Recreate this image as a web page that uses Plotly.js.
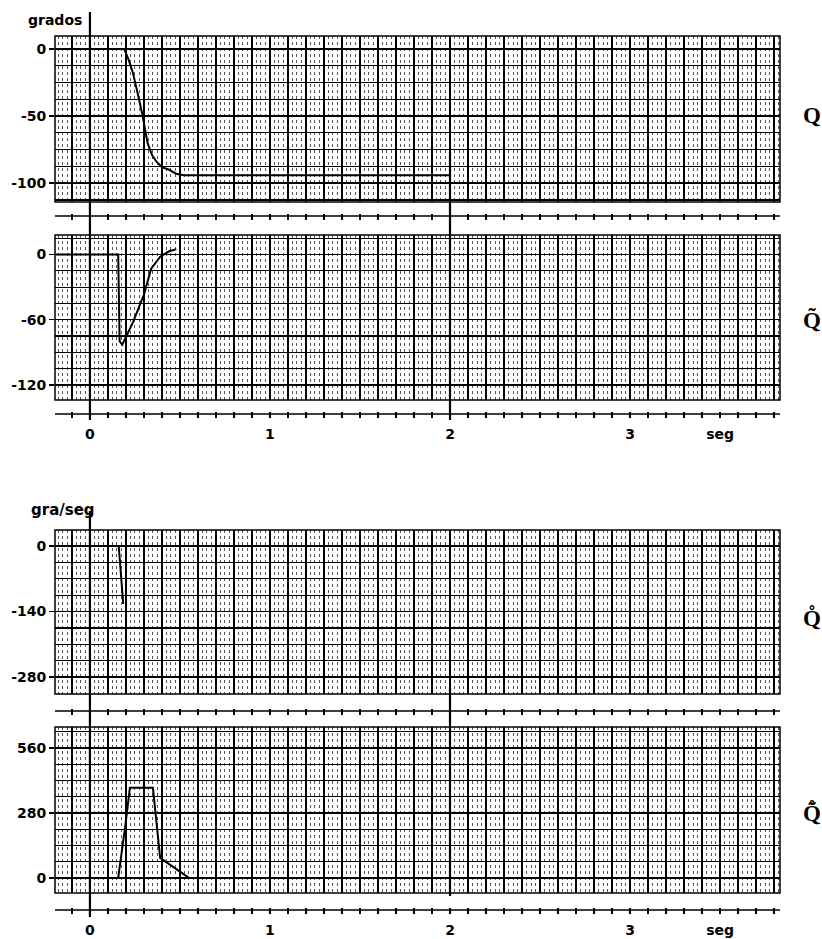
<!DOCTYPE html>
<html><head><meta charset="utf-8">
<script src="https://cdn.plot.ly/plotly-3.0.1.min.js"></script>
<style>html,body{margin:0;padding:0;background:#fff}</style>
</head><body><div id="chart" style="width:822px;height:939px"></div>
<script>
// ---- data ----
// panel 1: q (grados)
const tQ = [-0.19, 0.19, 0.215, 0.24, 0.265, 0.29, 0.32, 0.345, 0.37, 0.40, 0.44, 0.48, 0.52, 2.0];
const vQ = [0, 0, -8, -18.5, -33, -48, -70, -79, -84, -88, -90, -93, -94, -94];
// panel 2: q tilde (grados)
const tQt = [-0.19, 0.157, 0.165, 0.18, 0.24, 0.30, 0.34, 0.39, 0.44, 0.48];
const vQt = [0, 0, -80, -83, -62, -37, -13, -2, 3, 5];
// panel 3: q dot (gra/seg)
const tQd = [-0.19, 0.16, 0.185];
const vQd = [0, 0, -124];
// panel 4: q tilde dot (gra/seg)
const tQtd = [-0.19, 0.157, 0.195, 0.222, 0.35, 0.39, 0.55];
const vQtd = [0, 0, 215, 388, 388, 86, 0];

const seriesNames = ['Q', 'Q\u0303', 'Q\u030A', 'Q\u0303\u030A'];
const yTickVals = [[0, -50, -100], [0, -60, -120], [0, -140, -280], [0, 280, 560]];
const yTickText = [['0', '-50', '-100'], ['0', '-60', '-120'], ['0', '-140', '-280'], ['0', '280', '560']];
const yGridStep = [12.5, 15, 35, 70];
const yRanges = [[-114, 9.6], [-134, 18], [-316, 34], [-65, 650]];
const xLabelVals = [0, 1, 2, 3, 3.5];
const xLabelText = ['0', '1', '2', '3', 'seg'];
const unitTitles = ['grados', 'gra/seg'];

// ---- layout helpers ----
const W = 822, H = 939, L = 55, R = 42;
const fy = px => 1 - px / H;
const fx = px => (px - L) / (W - L - R);
const xRange = [-0.194, 3.833];
const panelPx = [[36, 202], [235, 400], [530, 694], [727, 893]];
const timeLinePx = [216, 414, 711, 910];
const showLabels = [false, true, false, true];

const tickVals = [];
const tickText = [];
for (let k = -1; k <= 38; k++) {
  const v = k / 10;
  tickVals.push(v);
  const i = xLabelVals.findIndex(a => Math.abs(a - v) < 1e-6);
  tickText.push(i >= 0 ? xLabelText[i] : '');
}

const xs = [tQ, tQt, tQd, tQtd];
const ys = [vQ, vQt, vQd, vQtd];
const data = [];
const layout = {
  width: W, height: H,
  margin: {l: L, r: R, t: 0, b: 0, pad: 0},
  paper_bgcolor: '#fff', plot_bgcolor: '#fff',
  showlegend: false,
  font: {family: 'DejaVu Sans', color: '#000', size: 14},
  shapes: [], annotations: []
};
const tickFont = {family: 'DejaVu Sans', size: 14, weight: 'bold', color: '#000'};

for (let i = 0; i < 4; i++) {
  const sx = i === 0 ? '' : String(i + 1);
  data.push({
    x: xs[i], y: ys[i], xaxis: 'x' + sx, yaxis: 'y' + sx,
    type: 'scatter', mode: 'lines', name: seriesNames[i],
    line: {color: '#000', width: 2}, hoverinfo: 'skip'
  });
  layout['xaxis' + sx] = {
    domain: [0, 1], range: xRange, anchor: 'free',
    position: fy(timeLinePx[i] - 3),
    tickmode: 'array', tickvals: tickVals, ticktext: tickText,
    showticklabels: showLabels[i], tickfont: tickFont,
    ticks: 'outside', ticklen: 6, tickwidth: 1.5, tickcolor: '#000',
    ticklabelstandoff: 4,
    showgrid: true, gridcolor: '#000', gridwidth: 1.8,
    minor: {tickmode: 'linear', tick0: 0, dtick: 0.025, showgrid: true,
            gridcolor: '#555', gridwidth: 1, griddash: 'dot', ticks: ''},
    zeroline: false, showline: false, fixedrange: true
  };
  layout['yaxis' + sx] = {
    domain: [fy(panelPx[i][1]), fy(panelPx[i][0])], range: yRanges[i],
    anchor: 'x' + sx,
    tickmode: 'array', tickvals: yTickVals[i], ticktext: yTickText[i],
    tickfont: tickFont, ticks: 'outside', ticklen: 5, tickwidth: 1.5, tickcolor: '#000',
    showgrid: true, gridcolor: '#000', gridwidth: 1.5,
    minor: {tickmode: 'linear', tick0: 0, dtick: yGridStep[i], showgrid: true,
            gridcolor: '#000', gridwidth: 1.2, ticks: ''},
    zeroline: false, showline: false, fixedrange: true
  };
  // panel frame
  layout.shapes.push({type: 'rect', xref: 'x' + sx + ' domain', yref: 'y' + sx + ' domain',
    x0: 0, x1: 1, y0: 0, y1: 1, line: {color: '#000', width: 1.5}});
  // time axis line
  layout.shapes.push({type: 'line', xref: 'paper', yref: 'paper',
    x0: 0, x1: 1, y0: fy(timeLinePx[i]), y1: fy(timeLinePx[i]), line: {color: '#000', width: 1.5}});
  // right-hand series label
  const labelBottom = [125, 330, 628, 823][i];
  layout.annotations.push({xref: 'paper', yref: 'paper', x: fx(812), y: fy(labelBottom + 5),
    xanchor: 'center', yanchor: 'bottom', showarrow: false, text: seriesNames[i],
    font: {family: 'Liberation Serif', size: 23, weight: 'bold', color: '#000'}});
}

// recorder event marker lines at t = 0 and t = 2
const markerLines = [
  {x: 0, top: 12, bottom: 420, ax: 'x'},
  {x: 2, top: 152, bottom: 420, ax: 'x'},
  {x: 0, top: 511, bottom: 917, ax: 'x3'},
  {x: 2, top: 688, bottom: 896, ax: 'x3'}
];
markerLines.forEach(m => layout.shapes.push({type: 'line', xref: m.ax, yref: 'paper',
  x0: m.x, x1: m.x, y0: fy(m.bottom), y1: fy(m.top), line: {color: '#000', width: 2.2}}));

layout.annotations.push({xref: 'paper', yref: 'paper', x: fx(55), y: fy(20),
  xanchor: 'center', yanchor: 'middle', showarrow: false, text: unitTitles[0],
  font: {family: 'DejaVu Sans', size: 14, weight: 'bold', color: '#000'}});
layout.annotations.push({xref: 'paper', yref: 'paper', x: fx(63), y: fy(510),
  xanchor: 'center', yanchor: 'middle', showarrow: false, text: unitTitles[1],
  font: {family: 'DejaVu Sans', size: 15, weight: 'bold', color: '#000'}});

Plotly.newPlot('chart', data, layout, {staticPlot: true, displayModeBar: false});
</script></body></html>
